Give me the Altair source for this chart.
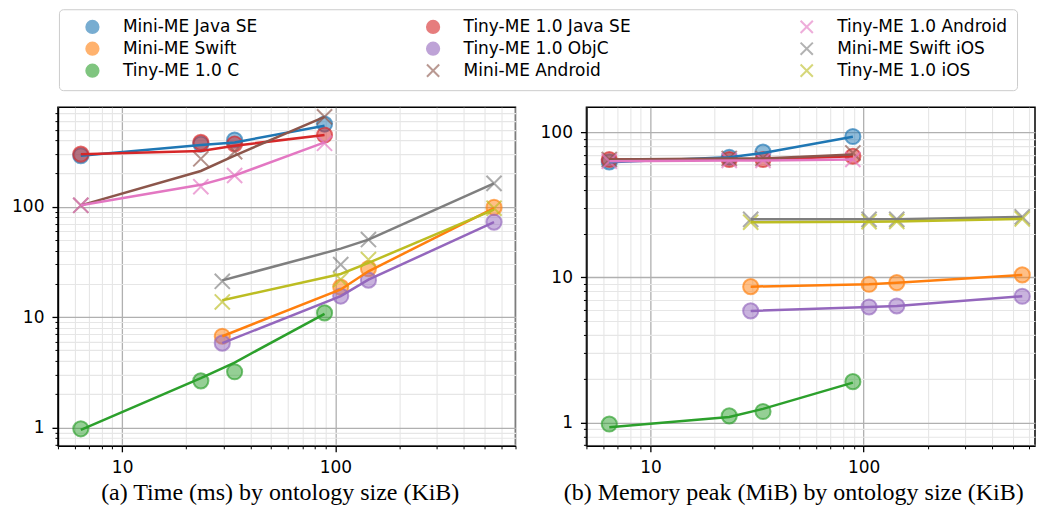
import altair as alt
import pandas as pd

# ---------------- data ----------------
SERIES = ["Mini-ME Java SE", "Mini-ME Swift", "Tiny-ME 1.0 C",
          "Tiny-ME 1.0 Java SE", "Tiny-ME 1.0 ObjC", "Mini-ME Android",
          "Tiny-ME 1.0 Android", "Mini-ME Swift iOS", "Tiny-ME 1.0 iOS"]
COLORS = ["#1f77b4", "#ff7f0e", "#2ca02c", "#d62728", "#9467bd",
          "#8c564b", "#e377c2", "#7f7f7f", "#bcbd22"]
X_PATH = "M-1,-1L1,1M1,-1L-1,1"
SHAPES = ["circle", "circle", "circle", "circle", "circle",
          X_PATH, X_PATH, X_PATH, X_PATH]

# ontology sizes (KiB)
SIZES_JVM = [6.4, 23.4, 33.7, 89]
SIZES_APPLE = [29.5, 106, 143, 555]
SERIES_SIZES = [SIZES_JVM, SIZES_APPLE, SIZES_JVM, SIZES_JVM, SIZES_APPLE,
                SIZES_JVM, SIZES_JVM, SIZES_APPLE, SIZES_APPLE]

# (a) time in ms - individual measurements (markers)
TIME_PTS_MINI_JAVA = [290, 370, 403, 562]
TIME_PTS_MINI_SWIFT = [6.7, 18.7, 27.5, 98.6]
TIME_PTS_TINY_C = [0.97, 2.64, 3.19, 10.9]
TIME_PTS_TINY_JAVA = [300, 383, 371, 447]
TIME_PTS_TINY_OBJC = [5.8, 15.5, 21.6, 72.6]
TIME_PTS_MINI_ANDROID = [103, 272, 316, 654]
TIME_PTS_TINY_ANDROID = [103, 152, 192, 376]
TIME_PTS_MINI_IOS = [21.1, 29.9, 50.4, 163]
TIME_PTS_TINY_IOS = [13.7, 21.9, 33.2, 97]
# (a) time in ms - trend lines
TIME_LINE_MINI_JAVA = [290, 363, 383, 542]
TIME_LINE_MINI_SWIFT = [6.7, 17.8, 26, 97]
TIME_LINE_TINY_C = [0.95, 2.79, 3.87, 10.7]
TIME_LINE_TINY_JAVA = [300, 321, 358, 447]
TIME_LINE_TINY_OBJC = [5.8, 15.5, 21.8, 72.6]
TIME_LINE_MINI_ANDROID = [103, 211, 291, 654]
TIME_LINE_TINY_ANDROID = [103, 158, 192, 383]
TIME_LINE_MINI_IOS = [21.5, 41.7, 50.4, 163]
TIME_LINE_TINY_IOS = [14.2, 24.6, 31.0, 94]

# (b) memory peak in MiB - markers
MEM_PTS_MINI_JAVA = [62.5, 67.3, 73, 93.5]
MEM_PTS_MINI_SWIFT = [8.63, 8.96, 9.19, 10.4]
MEM_PTS_TINY_C = [0.975, 1.11, 1.19, 1.91]
MEM_PTS_TINY_JAVA = [64.9, 64.9, 64.9, 68.4]
MEM_PTS_TINY_OBJC = [5.87, 6.25, 6.35, 7.41]
MEM_PTS_MINI_ANDROID = [64.9, 66, 66, 72]
MEM_PTS_TINY_ANDROID = [63.1, 64, 64, 65]
MEM_PTS_MINI_IOS = [25.1, 25.1, 25.1, 26.1]
MEM_PTS_TINY_IOS = [24.0, 24.2, 24.3, 25.3]
# (b) memory peak in MiB - trend lines
MEM_LINE_MINI_JAVA = [62.2, 67.3, 72, 93]
MEM_LINE_MINI_SWIFT = [8.63, 8.96, 9.19, 10.4]
MEM_LINE_TINY_C = [0.925, 1.09, 1.24, 1.88]
MEM_LINE_TINY_JAVA = [64.9, 64.9, 64.9, 68.4]
MEM_LINE_TINY_OBJC = [5.87, 6.25, 6.35, 7.41]
MEM_LINE_MINI_ANDROID = [64.9, 66, 66, 70.2]
MEM_LINE_TINY_ANDROID = [63.1, 64, 64, 65]
MEM_LINE_MINI_IOS = [25.1, 25.1, 25.1, 26.1]
MEM_LINE_TINY_IOS = [24.0, 24.2, 24.3, 25.3]

TIME_PTS = [TIME_PTS_MINI_JAVA, TIME_PTS_MINI_SWIFT, TIME_PTS_TINY_C,
            TIME_PTS_TINY_JAVA, TIME_PTS_TINY_OBJC, TIME_PTS_MINI_ANDROID,
            TIME_PTS_TINY_ANDROID, TIME_PTS_MINI_IOS, TIME_PTS_TINY_IOS]
TIME_LINE = [TIME_LINE_MINI_JAVA, TIME_LINE_MINI_SWIFT, TIME_LINE_TINY_C,
             TIME_LINE_TINY_JAVA, TIME_LINE_TINY_OBJC, TIME_LINE_MINI_ANDROID,
             TIME_LINE_TINY_ANDROID, TIME_LINE_MINI_IOS, TIME_LINE_TINY_IOS]
MEM_PTS = [MEM_PTS_MINI_JAVA, MEM_PTS_MINI_SWIFT, MEM_PTS_TINY_C,
           MEM_PTS_TINY_JAVA, MEM_PTS_TINY_OBJC, MEM_PTS_MINI_ANDROID,
           MEM_PTS_TINY_ANDROID, MEM_PTS_MINI_IOS, MEM_PTS_TINY_IOS]
MEM_LINE = [MEM_LINE_MINI_JAVA, MEM_LINE_MINI_SWIFT, MEM_LINE_TINY_C,
            MEM_LINE_TINY_JAVA, MEM_LINE_TINY_OBJC, MEM_LINE_MINI_ANDROID,
            MEM_LINE_TINY_ANDROID, MEM_LINE_MINI_IOS, MEM_LINE_TINY_IOS]

X_TICKS = [5, 6, 7, 8, 9, 10, 20, 30, 40, 50, 60, 70, 80, 90,
           100, 200, 300, 400, 500, 600, 700]
Y_TICKS_TIME = [0.7, 0.8, 0.9, 1, 2, 3, 4, 5, 6, 7, 8, 9, 10, 20, 30, 40, 50,
                60, 70, 80, 90, 100, 200, 300, 400, 500, 600, 700]
Y_TICKS_MEM = [0.7, 0.8, 0.9, 1, 2, 3, 4, 5, 6, 7, 8, 9, 10, 20, 30, 40, 50,
               60, 70, 80, 90, 100]

CAPTION_A = "(a) Time (ms) by ontology size (KiB)"
CAPTION_B = "(b) Memory peak (MiB) by ontology size (KiB)"


def frame(values_list):
    rows = []
    for name, sizes, vals in zip(SERIES, SERIES_SIZES, values_list):
        for o, (sz, v) in enumerate(zip(sizes, vals)):
            rows.append({"series": name, "size": sz, "value": v, "order": o})
    return pd.DataFrame(rows)


MAJOR = "datum.value == 1 || datum.value == 10 || datum.value == 100"
LABEL_EXPR = ("datum.value == 1 ? '1' : datum.value == 10 ? '10' : "
              "datum.value == 100 ? '100' : ''")

color_scale = alt.Scale(domain=SERIES, range=COLORS)
shape_scale = alt.Scale(domain=SERIES, range=SHAPES)

axis_common = dict(
    labelExpr=LABEL_EXPR,
    labelFont="DejaVu Sans",
    labelFontSize=17,
    labelColor="black",
    labelPadding=8,
    tickColor="black",
    tickSize={"condition": {"test": MAJOR, "value": 6}, "value": 3},
    tickWidth={"condition": {"test": MAJOR, "value": 1.3}, "value": 1},
    gridColor={"condition": {"test": MAJOR, "value": "#b0b0b0"}, "value": "#e6e6e6"},
    gridWidth={"condition": {"test": MAJOR, "value": 1.3}, "value": 1.1},
    domainColor="black",
    domainWidth=1.5,
    labelFlush=False,
    labelOverlap=False,
)


def panel(pts, line, xdomain, ydomain, yticks, caption, caption_x, width):
    x = alt.X("size:Q",
              scale=alt.Scale(type="log", domain=xdomain, nice=False),
              axis=alt.Axis(values=X_TICKS, title=caption,
                            titleFont="Liberation Serif", titleFontSize=24,
                            titleFontWeight="normal", titleColor="black",
                            titlePadding=5, titleX=caption_x,
                            titleAlign="center", **axis_common))
    y = alt.Y("value:Q",
              scale=alt.Scale(type="log", domain=ydomain, nice=False),
              axis=alt.Axis(values=yticks, title=None, **axis_common))
    points = alt.Chart(frame(pts)).mark_point(
        filled=True, size=230, fillOpacity=0.5, strokeOpacity=0.65,
        strokeWidth=2
    ).encode(
        x=x, y=y,
        color=alt.Color("series:N", scale=color_scale,
                        legend=alt.Legend(
                            title=None, orient="none", legendX=1, legendY=-98,
                            columns=3, columnPadding=151, rowPadding=1,
                            labelFont="DejaVu Sans", labelFontSize=17,
                            labelColor="black", labelLimit=400,
                            labelOffset=22, symbolSize=150,
                            symbolStrokeWidth=2, symbolOffset=16,
                            symbolOpacity=0.6,
                            padding=9, strokeColor="#cccccc",
                            cornerRadius=4, fillColor="white")),
        stroke=alt.Stroke("series:N", scale=color_scale),
        shape=alt.Shape("series:N", scale=shape_scale),
    )
    lines = alt.Chart(frame(line)).mark_line(strokeWidth=2.5).encode(
        x=x, y=y,
        order="order:Q",
        color=alt.Color("series:N", scale=color_scale, legend=None),
        detail="series:N",
    )
    return alt.layer(points, lines).properties(width=width, height=339)


left = panel(TIME_PTS, TIME_LINE, [5, 700], [0.68, 800], Y_TICKS_TIME,
             CAPTION_A, 222, 458)
right = panel(MEM_PTS, MEM_LINE, [5, 637], [0.69, 149], Y_TICKS_MEM,
              CAPTION_B, 207, 449)

chart = alt.hconcat(left, right, spacing=71, bounds="flush").properties(
    padding={"left": 2, "top": 0, "right": 0, "bottom": 0},
    background="white",
).configure_view(stroke="black", strokeWidth=1.5)

chart.save("out.html", embed_options={"renderer": "svg", "actions": False})
